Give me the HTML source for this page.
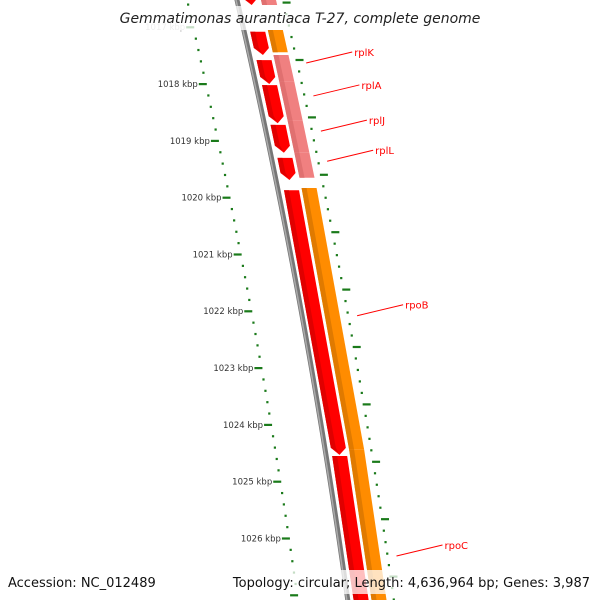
<!DOCTYPE html>
<html><head><meta charset="utf-8"><style>
html,body{margin:0;padding:0;background:#fff;width:600px;height:600px;overflow:hidden;}
svg{display:block;font-family:"DejaVu Sans","Liberation Sans",sans-serif;}
</style></head><body>
<svg id="map" width="600" height="600" viewBox="0 0 600 600" xmlns="http://www.w3.org/2000/svg" overflow="hidden">
<g id="ticks"></g>
<g id="backbone"></g>
<g id="genes"></g>
<g id="labels"></g>
<rect x="0" y="6" width="600" height="24" fill="#fff" opacity="0.75"/>
<text x="300" y="23" text-anchor="middle" font-size="14" font-style="italic" fill="#222">Gemmatimonas aurantiaca T-27, complete genome</text>
<rect x="0" y="570" width="600" height="24" fill="#fff" opacity="0.75"/>
<text x="8" y="587" font-size="13" fill="#111">Accession: NC_012489</text>
<text x="590" y="587" font-size="13" text-anchor="end" fill="#111">Topology: circular; Length: 4,636,964 bp; Genes: 3,987</text>
</svg>
<script>
const NS='http://www.w3.org/2000/svg';
const innerStarts=[1016.17,1017.08,1017.58,1018.02,1018.72,1019.30,1019.87,1024.55];
const innerEnds=[1016.61,1017.49,1018.00,1018.69,1019.21,1019.69,1024.53,1027.44];
const outerStarts=[1016.17,1017.05,1017.49,1017.95,1018.65,1019.21,1019.83,1024.44];
const outerEnds=[1016.61,1017.44,1017.95,1018.65,1019.21,1019.65,1024.44,1027.44];
const outerColors=['#f08080','#ff8c00','#f08080','#f08080','#f08080','#f08080','#ff8c00','#ff8c00'];
const labelNames=['rplK','rplA','rplJ','rplL','rpoB','rpoC'];
const labelKbp=[1017.63,1018.21,1018.83,1019.36,1022.08,1026.31];
const tickLabels=[1017,1018,1019,1020,1021,1022,1023,1024,1025,1026];
const Y0=84, PX=56.8;
function yOf(k){return Y0+(k-1018)*PX;}
function gx(y){return 237+0.2302*y-7.6e-5*y*y;}
function pt(k,off){const y=yOf(k);return [gx(y)+off,y];}
function el(tag,attrs,parent){const e=document.createElementNS(NS,tag);for(const a in attrs)e.setAttribute(a,attrs[a]);parent.appendChild(e);return e;}
const G=id=>document.getElementById(id);
(function(){let d='';for(let y=-10;y<=610;y+=5){d+=(y===-10?'M':'L')+gx(y).toFixed(2)+' '+y;}
const b=el('path',{d:d,stroke:'#777','stroke-width':5,fill:'none'},G('backbone'));

const b2=el('path',{d:d,stroke:'#aaa','stroke-width':1.5,fill:'none',transform:'translate(-1,0)'},G('backbone'));
})();
(function(){const g=G('ticks');
for(let i=0;i<=60;i++){const kk=Math.round((1016.0+i*0.2)*10)/10;const y=yOf(kk);if(y<-5||y>605)continue;const x=gx(y)-50;
 const major=Math.abs(kk-Math.round(kk))<0.01;
 const r=el('rect',major?{x:x-7,y:y-1,width:8,height:2.2,fill:'#1a7a1a'}:{x:x-1,y:y-1,width:2.2,height:2.2,fill:'#1a7a1a'},g);
 }
for(let i=0;i<=60;i++){const kk=Math.round((1016.18+i*0.2)*100)/100;const y=yOf(kk)+(kk-1018)*0.6;if(y<-5||y>605)continue;const x=gx(y)+46;
 const major=Math.abs((kk-0.58)-Math.round(kk-0.58))<0.01;
 const r=el('rect',major?{x:x-1,y:y-1,width:8,height:2.2,fill:'#1a7a1a'}:{x:x-1,y:y-1,width:2.2,height:2.2,fill:'#1a7a1a'},g);
 }
tickLabels.forEach(v=>{const y=yOf(v);const x=gx(y)-58;
 const t=el('text',{x:x,y:y+3,'font-size':8.5,'text-anchor':'end',fill:v===1017?'#bbb':'#333'},g);t.textContent=v+' kbp';
 });})();
(function(){const g=G('genes');
function poly(ps){return ps.map(p=>p[0].toFixed(2)+','+p[1].toFixed(2)).join(' ');}
innerStarts.forEach((s,i)=>{const e=innerEnds[i];const a=7/PX;const ea=Math.max(s,e-a);
 const p=el('polygon',{points:poly([pt(s,6),pt(s,21),pt(ea,21),pt(e,13.5),pt(ea,6)]),fill:'#ff0000'},g);
 
 const h=el('polygon',{points:poly([pt(s,6),pt(s,11),pt(ea,11),pt(e-a*0.3,13),pt(ea,6)]),fill:'#e00000'},g);
 });
outerStarts.forEach((s,i)=>{const e=outerEnds[i];
 const p=el('polygon',{points:poly([pt(s,24),pt(s,39),pt(e,39),pt(e,24)]),fill:outerColors[i]},g);
 
 const h=el('polygon',{points:poly([pt(s,24),pt(s,29),pt(e,29),pt(e,24)]),fill:outerColors[i]==='#ff8c00'?'#e07a00':'#e07070'},g);
 });})();
(function(){const g=G('labels');
labelNames.forEach((n,i)=>{const a=pt(labelKbp[i],55);const tx=a[0]+46, ty=a[1]-11;
 const l=el('line',{x1:a[0],y1:a[1],x2:tx,y2:ty,stroke:'#ff0000','stroke-width':1},g);
 
 const t=el('text',{x:tx+2,y:ty+4,'font-size':10,fill:'#ff0000'},g);t.textContent=n;
 });})();
</script>
</body></html>
